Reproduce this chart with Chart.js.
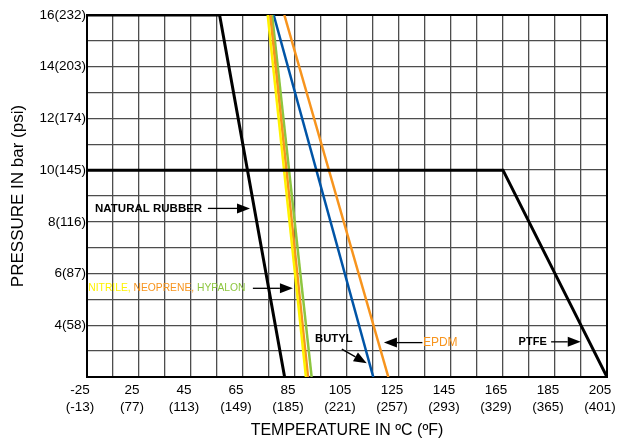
<!DOCTYPE html>
<html>
<head>
<meta charset="utf-8">
<script src="https://cdn.jsdelivr.net/npm/chart.js@4.4.1/dist/chart.umd.min.js"></script>
<style>
  html, body { margin: 0; padding: 0; background: #fff; }
  #wrap { width: 618px; height: 443px; }
</style>
</head>
<body>
<div id="wrap"><canvas id="myChart"></canvas></div>
<script>
// Temperature axis tick labels (ºC over ºF)
const tempC = ['-25', '25', '45', '65', '85', '105', '125', '145', '165', '185', '205'];
const tempF = ['-13', '77', '113', '149', '185', '221', '257', '293', '329', '365', '401'];

// Pressure axis tick labels, bar and psi
const pressureBar = [4, 6, 8, 10, 12, 14, 16];
const pressurePsi = [58, 87, 116, 145, 174, 203, 232];

// Rating curves: temperature (ºC) / pressure (bar)
const naturalRubberT = [5, 56, 81];
const naturalRubberP = [16, 16, 2];
const nitrileT = [74.5, 89.2];
const nitrileP = [16, 2];
const neopreneT = [75.5, 90];
const neopreneP = [16, 2];
const hypalonT = [76.2, 91.4];
const hypalonP = [16, 2];
const butylT = [76.8, 115.1];
const butylP = [16, 2];
const epdmT = [80.9, 120.9];
const epdmP = [16, 2];
const ptfeT = [5, 165, 205];
const ptfeP = [10, 10, 2];

const FONT = '"Liberation Sans", Arial, Helvetica, sans-serif';
const COLORS = {
    black: '#000000',
    yellow: '#FFF200',
    orange: '#F7941D',
    green: '#8DC63F',
    blue: '#0054A6'
};

function toPoints(temps, pressures) {
    return temps.map((t, i) => ({ x: t, y: pressures[i] }));
}

function curve(label, temps, pressures, color, width) {
    return {
        label: label,
        data: toPoints(temps, pressures),
        borderColor: color,
        backgroundColor: color,
        borderWidth: width,
        showLine: true,
        pointRadius: 0,
        fill: false,
        tension: 0
    };
}

// first dataset is painted last (on top)
const datasets = [
    curve('Natural rubber', naturalRubberT, naturalRubberP, COLORS.black, 3),
    curve('PTFE', ptfeT, ptfeP, COLORS.black, 3),
    curve('Nitrile', nitrileT, nitrileP, COLORS.yellow, 2.5),
    curve('Neoprene', neopreneT, neopreneP, COLORS.orange, 2.5),
    curve('Hypalon', hypalonT, hypalonP, COLORS.green, 2.5),
    curve('Butyl', butylT, butylP, COLORS.blue, 2.5),
    curve('EPDM', epdmT, epdmP, COLORS.orange, 2.5)
];

// frame on top and right side of the plot
const framePlugin = {
    id: 'frame',
    beforeDatasetsDraw(chart) {
        const { ctx, chartArea } = chart;
        ctx.save();
        ctx.strokeStyle = '#000';
        ctx.lineWidth = 2;
        ctx.strokeRect(chartArea.left, chartArea.top, chartArea.right - chartArea.left, chartArea.bottom - chartArea.top);
        ctx.restore();
    }
};

function drawArrow(ctx, x1, y1, x2, y2) {
    const ang = Math.atan2(y2 - y1, x2 - x1);
    const len = 13, half = 5;
    const bx = x2 - Math.cos(ang) * len;
    const by = y2 - Math.sin(ang) * len;
    ctx.beginPath();
    ctx.moveTo(x1, y1);
    ctx.lineTo(bx, by);
    ctx.lineWidth = 1.3;
    ctx.stroke();
    ctx.beginPath();
    ctx.moveTo(x2, y2);
    ctx.lineTo(bx + Math.sin(ang) * half, by - Math.cos(ang) * half);
    ctx.lineTo(bx - Math.sin(ang) * half, by + Math.cos(ang) * half);
    ctx.closePath();
    ctx.fill();
}

// labels and arrows inside the plot, placed in data units
const notesPlugin = {
    id: 'notes',
    afterDatasetsDraw(chart) {
        const { ctx } = chart;
        const sx = chart.scales.x, sy = chart.scales.y;
        const px = v => sx.getPixelForValue(v);
        const py = v => sy.getPixelForValue(v);
        ctx.save();
        ctx.textBaseline = 'middle';
        ctx.textAlign = 'left';
        ctx.fillStyle = '#000';
        ctx.strokeStyle = '#000';

        ctx.font = 'bold 11.5px ' + FONT;
        ctx.fillText('NATURAL RUBBER', px(8.1), py(8.52));
        drawArrow(ctx, px(51.5), py(8.52), px(67.7), py(8.52));

        ctx.font = '10.3px ' + FONT;
        let tx = px(5.5);
        const parts = [['NITRILE, ', COLORS.yellow], ['NEOPRENE, ', COLORS.orange], ['HYPALON', COLORS.green]];
        for (const [txt, col] of parts) {
            ctx.fillStyle = col;
            ctx.fillText(txt, tx, py(5.43));
            tx += ctx.measureText(txt).width;
        }
        ctx.fillStyle = '#000';
        drawArrow(ctx, px(68.8), py(5.43), px(84.2), py(5.43));

        ctx.font = 'bold 11.3px ' + FONT;
        ctx.fillText('BUTYL', px(92.7), py(3.47));
        drawArrow(ctx, px(103), py(3.08), px(112.6), py(2.53));

        ctx.font = '12px ' + FONT;
        ctx.fillStyle = COLORS.orange;
        ctx.fillText('EPDM', px(134.2), py(3.33));
        ctx.fillStyle = '#000';
        drawArrow(ctx, px(134), py(3.33), px(119.2), py(3.33));

        ctx.font = 'bold 11px ' + FONT;
        ctx.fillText('PTFE', px(171), py(3.36));
        drawArrow(ctx, px(183.5), py(3.36), px(194.9), py(3.36));
        ctx.restore();
    }
};

const config = {
    type: 'scatter',
    data: { datasets: datasets },
    options: {
        responsive: true,
        maintainAspectRatio: false,
        animation: false,
        layout: { padding: { left: 0, right: 11, top: 15, bottom: 0 } },
        plugins: {
            legend: { display: false },
            tooltip: { enabled: false }
        },
        scales: {
            x: {
                type: 'linear',
                min: 5,
                max: 205,
                afterBuildTicks: (scale) => {
                    const ticks = [];
                    for (let v = scale.min; v <= scale.max + 0.001; v += 10) ticks.push({ value: v });
                    scale.ticks = ticks;
                },
                afterFit: (scale) => {
                    scale.height = 66;
                    scale.paddingLeft = 0;
                    scale.paddingRight = 0;
                },
                grid: { color: '#4d4d4d', lineWidth: 1.3, drawTicks: false },
                border: { display: true, color: '#000', width: 2 },
                ticks: {
                    autoSkip: false,
                    maxRotation: 0,
                    padding: 5,
                    labelOffset: -7,
                    color: '#000',
                    font: { family: FONT, size: 13.5, lineHeight: 1.23 },
                    callback: (value) => {
                        const i = (value - 5) / 20;
                        if (Math.abs(i - Math.round(i)) > 0.001) return '';
                        const k = Math.round(i);
                        return [tempC[k], '(' + tempF[k] + ')'];
                    }
                },
                title: {
                    display: true,
                    text: 'TEMPERATURE IN ºC (ºF)',
                    color: '#000',
                    font: { family: FONT, size: 16 },
                    padding: { top: 0, bottom: 2.5 }
                }
            },
            y: {
                type: 'linear',
                min: 2,
                max: 16,
                afterBuildTicks: (scale) => {
                    const ticks = [];
                    for (let v = scale.min; v <= scale.max + 0.001; v += 1) ticks.push({ value: v });
                    scale.ticks = ticks;
                },
                afterFit: (scale) => {
                    scale.width = 87;
                    scale.paddingTop = 0;
                    scale.paddingBottom = 0;
                },
                grid: { color: '#4d4d4d', lineWidth: 1.3, drawTicks: false },
                border: { display: true, color: '#000', width: 2 },
                ticks: {
                    autoSkip: false,
                    padding: 1,
                    color: '#000',
                    font: { family: FONT, size: 13.5 },
                    callback: (value) => {
                        const i = pressureBar.indexOf(value);
                        return i < 0 ? '' : pressureBar[i] + '(' + pressurePsi[i] + ')';
                    }
                },
                title: {
                    display: true,
                    text: 'PRESSURE IN bar (psi)',
                    color: '#000',
                    font: { family: FONT, size: 17 },
                    padding: { top: 8, bottom: 0 }
                }
            }
        }
    },
    plugins: [framePlugin, notesPlugin]
};

const myChart = new Chart(document.getElementById('myChart'), config);
</script>
</body>
</html>
